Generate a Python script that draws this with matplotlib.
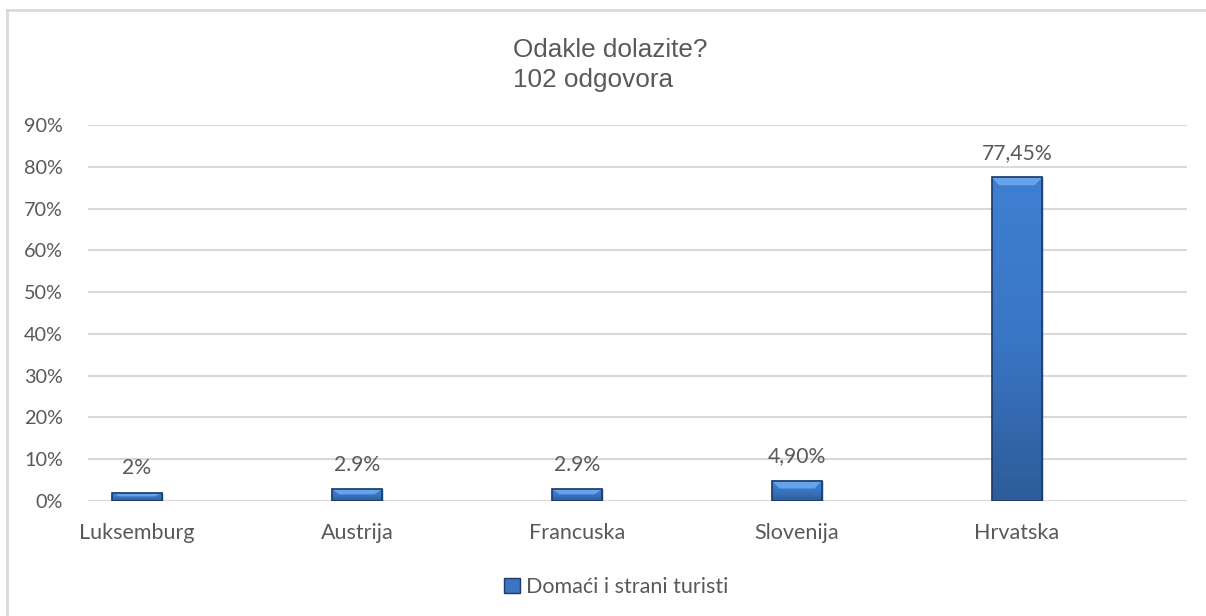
import numpy as np
import matplotlib
matplotlib.use("Agg")
import matplotlib.pyplot as plt
from matplotlib.patches import Polygon, Patch
from matplotlib.colors import LinearSegmentedColormap

categories = ["Luksemburg", "Austrija", "Francuska", "Slovenija", "Hrvatska"]
values = [2.0, 2.9, 2.9, 4.9, 77.45]
value_labels = ["2%", "2.9%", "2.9%", "4,90%", "77,45%"]
yticks = [0, 10, 20, 30, 40, 50, 60, 70, 80, 90]
series_name = "Domaći i strani turisti"
title_lines = ["Odakle dolazite?", "102 odgovora"]

text_col = "#595959"
grid_col = "#d9d9d9"
label_font = "Lato"

fig = plt.figure(figsize=(12.06, 6.16), dpi=100)
ax = fig.add_axes([88 / 1206, 1 - 501 / 616, (1187 - 88) / 1206, (501 - 125) / 616])

x = np.arange(len(categories))
width = 0.23
bars = ax.bar(x, values, width=width, color="#3a74c2", edgecolor="#1d3b66",
              linewidth=1.0, zorder=3)

# gradient body + light bevel on top, roughly like the excel style
cmap = LinearSegmentedColormap.from_list("bar", ["#2d5c98", "#3a76c6", "#3f7fd1"])
grad = np.linspace(0, 1, 256).reshape(-1, 1)
for b, v in zip(bars, values):
    x0 = b.get_x()
    im = ax.imshow(grad, extent=[x0, x0 + width, 0, v], origin="lower",
                   aspect="auto", cmap=cmap, zorder=3.5)
    im.set_clip_path(b)
    bev = min(1.9, v * 0.45)
    ins = 0.035
    top = Polygon([[x0, v], [x0 + width, v], [x0 + width - ins, v - bev], [x0 + ins, v - bev]],
                  closed=True, facecolor="#66a3ea", edgecolor="none", zorder=4)
    ax.add_patch(top)
    ax.add_patch(Polygon([[x0, v], [x0 + width, v], [x0 + width, 0], [x0, 0]], closed=True,
                         facecolor="none", edgecolor="#1d3b66", linewidth=1.2, zorder=5))

for xi, v, lab in zip(x, values, value_labels):
    ax.annotate(lab, (xi, v), xytext=(0, 17.5), textcoords="offset points",
                ha="center", va="center", fontsize=15.2, color=text_col, family=label_font)

ax.set_xlim(-0.2227, 4.773)
ax.set_ylim(0, 90)
ax.set_yticks(yticks)
ax.set_yticklabels([f"{t}%" for t in yticks])
ax.set_xticks(x)
ax.set_xticklabels(categories)
ax.tick_params(axis="both", length=0, labelcolor=text_col)
ax.tick_params(axis="y", pad=18, labelsize=14.3)
ax.tick_params(axis="x", pad=16, labelsize=15.5)
for lab in ax.get_xticklabels() + ax.get_yticklabels():
    lab.set_family(label_font)
ax.yaxis.grid(True, color=grid_col, linewidth=1.5, zorder=0)
ax.set_axisbelow(True)
for s in ax.spines.values():
    s.set_visible(False)

fig.text(513 / 1206, 1 - 38 / 616, "\n".join(title_lines), ha="left", va="top",
         fontsize=18.8, color=text_col, family="Liberation Sans", linespacing=1.3)

handle = Patch(facecolor="#3a74c2", edgecolor="#1d3b66")
leg = fig.legend([handle], [series_name], loc="center",
                 bbox_to_anchor=(616 / 1206, 1 - 587 / 616), frameon=False,
                 handlelength=0.75, handleheight=0.75, handletextpad=0.3,
                 prop={"family": label_font, "size": 15.5})
for t in leg.get_texts():
    t.set_color(text_col)

# chart border (only top and left visible in the reference)
fig.add_artist(plt.Line2D([7 / 1206, 7 / 1206], [0, 1 - 10 / 616], transform=fig.transFigure,
                          color=grid_col, linewidth=2))
fig.add_artist(plt.Line2D([7 / 1206, 1], [1 - 10 / 616, 1 - 10 / 616], transform=fig.transFigure,
                          color=grid_col, linewidth=2))

fig.savefig("out.png", dpi=100)
